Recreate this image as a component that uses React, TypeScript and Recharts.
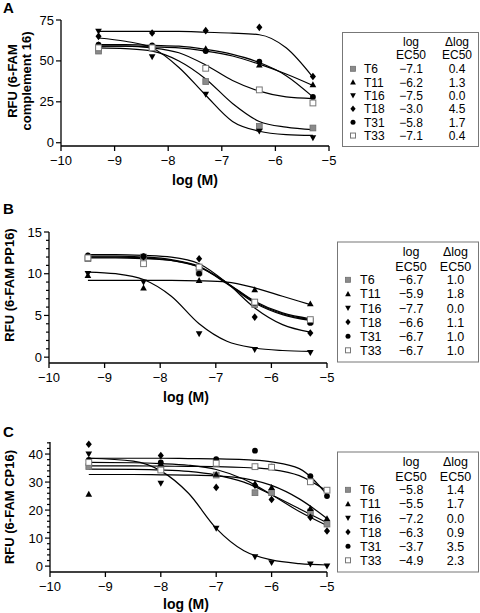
import React from 'react'
import { ComposedChart, Line, Scatter, XAxis, YAxis } from 'recharts'

const FONT = '"Liberation Sans", Arial, Helvetica, sans-serif'

const compounds = ['T6', 'T11', 'T16', 'T18', 'T31', 'T33']
const markerKinds = ['graySquare', 'up', 'down', 'diamond', 'circle', 'openSquare']
const xTicks = [-10, -9, -8, -7, -6, -5]

// panel A: 6-FAM complement 16
const aDoseX = [-9.3, -8.3, -7.3, -6.3, -5.3]
const aT6 = [56, 58, 37.4, 10, 9]
const aT11 = [60, 59, 57.5, 47.5, 35.5]
const aT16 = [68, 52.5, 29.5, 7, 3]
const aT18 = [65, 67, 68.5, 70.5, 40.5]
const aT31 = [60, 59.5, 56, 49.5, 28]
const aT33 = [58, 58, 45.5, 32.3, 24.3]
const aFitX = [-9.3, -8.8, -8.3, -7.8, -7.3, -6.8, -6.3, -5.8, -5.3]
const aFitT6 = [58, 57.5, 56, 50, 39, 24, 13, 9.5, 8]
const aFitT11 = [59, 59, 58.5, 58, 56, 53, 48, 42, 35]
const aFitT16 = [64, 62, 58, 46, 29, 13, 7, 5, 4.5]
const aFitT18 = [68, 68, 68, 68, 67.5, 67, 66, 58, 40]
const aFitT31 = [60, 60, 59.5, 59, 57, 54, 49, 41, 28]
const aFitT33 = [59, 59, 58, 55, 47.5, 38, 31.5, 28, 27]
const aLogEC50 = ['\u22127.1', '\u22126.2', '\u22127.5', '\u22123.0', '\u22125.8', '\u22127.1']
const aDeltaLog = ['0.4', '1.3', '0.0', '4.5', '1.7', '0.4']
const aYTicks = [0, 25, 50, 75]
const aYMajor = [0, 25, 50, 75]

// panel B: 6-FAM PP16
const bDoseX = [-9.3, -8.3, -7.3, -6.3, -5.3]
const bT6 = [11.8, 12.0, 10.2, 6.3, 4.3]
const bT11 = [9.8, 8.3, 9.2, 8.1, 6.4]
const bT16 = [10.0, 9.0, 2.8, 0.9, 0.55]
const bT18 = [12.1, 12.0, 11.8, 4.8, 2.9]
const bT31 = [12.2, 12.1, 10.0, 6.5, 4.1]
const bT33 = [11.9, 11.2, 10.8, 6.6, 4.5]
const bFitX = [-9.3, -8.8, -8.3, -7.8, -7.3, -6.8, -6.3, -5.8, -5.3]
const bFitT6 = [12.0, 12.0, 11.9, 11.6, 10.8, 8.8, 6.5, 5.1, 4.4]
const bFitT11 = [9.2, 9.2, 9.2, 9.2, 9.15, 9.0, 8.3, 7.3, 6.3]
const bFitT16 = [10.2, 10.0, 9.3, 7.3, 4.0, 1.9, 1.1, 0.8, 0.7]
const bFitT18 = [12.3, 12.3, 12.2, 12.0, 11.2, 8.9, 5.9, 3.9, 3.0]
const bFitT31 = [12.1, 12.1, 12.0, 11.7, 10.9, 8.9, 6.6, 5.2, 4.5]
const bFitT33 = [11.9, 11.9, 11.8, 11.6, 10.8, 8.9, 6.7, 5.3, 4.6]
const bLogEC50 = ['\u22126.7', '\u22125.9', '\u22127.7', '\u22126.6', '\u22126.7', '\u22126.7']
const bDeltaLog = ['1.0', '1.8', '0.0', '1.1', '1.0', '1.0']
const bYTicks = [0, 1, 2, 3, 4, 5, 6, 7, 8, 9, 10, 11, 12, 13, 14, 15]
const bYMajor = [0, 5, 10, 15]

// panel C: 6-FAM CP16
const cDoseX = [-9.3, -8, -7, -6.3, -6, -5.3, -5]
const cT6 = [35.5, 35, 32.5, 26.2, 26.2, 19.3, 15]
const cT11 = [25.7, 36.5, 32.8, 29.5, 28.1, 20.6, 17]
const cT16 = [40, 29.5, 13.5, 3.3, 1.2, 0.7, 0]
const cT18 = [43.5, 39.5, 28.1, 28.9, 23.8, 17.4, 12.5]
const cT31 = [37.9, 37, 38.2, 41.2, 35.5, 32.1, 25]
const cT33 = [37, 34.3, 36.7, 35.5, 35.3, 30.1, 27.1]
const cFitX = [-9.3, -8.5, -8, -7.5, -7, -6.5, -6, -5.5, -5]
const cFitT6 = [34.6, 34.5, 34.3, 33.8, 32.5, 30, 25.5, 20.5, 15.5]
const cFitT11 = [32.7, 32.7, 32.6, 32.5, 32.2, 31.3, 28.8, 24, 17]
const cFitT16 = [38.5, 37.5, 34, 26, 13.5, 5.5, 2.2, 0.9, 0.4]
const cFitT18 = [37.0, 36.9, 36.6, 36.0, 34.5, 31, 25.5, 19.5, 14.5]
const cFitT31 = [38.5, 38.5, 38.5, 38.4, 38.3, 38.0, 37.2, 34.8, 25.5]
const cFitT33 = [35.8, 35.8, 35.7, 35.6, 35.5, 35.2, 34.5, 32.3, 26.8]
const cLogEC50 = ['\u22125.8', '\u22125.5', '\u22127.2', '\u22126.3', '\u22123.7', '\u22124.9']
const cDeltaLog = ['1.4', '1.7', '0.0', '0.9', '3.5', '2.3']
const cYTicks = [0, 2, 4, 6, 8, 10, 12, 14, 16, 18, 20, 22, 24, 26, 28, 30, 32, 34, 36, 38, 40, 42, 44]
const cYMajor = [0, 10, 20, 30, 40]

const toPoints = (xs: number[], ys: number[]) => xs.map((x, i) => ({ x, y: ys[i] }))
const minus = (v: number) => String(v).replace('-', '\u2212')

function Marker({ kind, cx, cy, s }: { kind: string; cx: number; cy: number; s: number }) {
  const h = s / 2
  switch (kind) {
    case 'graySquare':
      return <rect x={cx - h} y={cy - h} width={s} height={s} fill="#8a8a8a" stroke="#6e6e6e" strokeWidth={0.8} />
    case 'openSquare':
      return <rect x={cx - h} y={cy - h} width={s} height={s} fill="#fff" stroke="#777" strokeWidth={1} />
    case 'up':
      return <polygon points={`${cx},${cy - h * 1.15} ${cx + h * 1.15},${cy + h * 0.9} ${cx - h * 1.15},${cy + h * 0.9}`} fill="#000" />
    case 'down':
      return <polygon points={`${cx},${cy + h * 1.15} ${cx + h * 1.15},${cy - h * 0.9} ${cx - h * 1.15},${cy - h * 0.9}`} fill="#000" />
    case 'diamond':
      return <polygon points={`${cx},${cy - h * 1.3} ${cx + h * 1.05},${cy} ${cx},${cy + h * 1.3} ${cx - h * 1.05},${cy}`} fill="#000" />
    default:
      return <circle cx={cx} cy={cy} r={h} fill="#000" />
  }
}

function XTick(props: any) {
  const { x, y, payload } = props
  return (
    <g>
      <line x1={x} x2={x} y1={y} y2={y + 5} stroke="#000" strokeWidth={1.3} />
      <text x={x} y={y + 18.5} textAnchor="middle" fontSize={13} fontFamily={FONT} fill="#000">
        {minus(payload.value)}
      </text>
    </g>
  )
}

function YTick(props: any) {
  const { x, y, payload, majors } = props
  const major = majors.includes(payload.value)
  return (
    <g>
      <line x1={x} x2={x - (major ? 5 : 3)} y1={y} y2={y} stroke="#000" strokeWidth={1.2} />
      {major && (
        <text x={x - 7} y={y + 4.5} textAnchor="end" fontSize={13} fontFamily={FONT} fill="#000">
          {payload.value}
        </text>
      )}
    </g>
  )
}

interface PanelProps {
  top: number
  height: number
  yAxisW: number
  xAxisH: number
  marginTop: number
  marginRight: number
  yDomain: number[]
  yTicks: number[]
  yMajor: number[]
  doseX: number[]
  values: number[][]
  fitX: number[]
  fits: number[][]
}

function Panel(p: PanelProps) {
  const axis = { stroke: '#000', strokeWidth: 1.3 }
  return (
    <div style={{ position: 'absolute', left: 0, top: p.top }}>
      <ComposedChart
        width={340}
        height={p.height}
        margin={{ top: p.marginTop, right: p.marginRight, bottom: 0, left: 0 }}
      >
        <XAxis
          type="number"
          dataKey="x"
          domain={[-10, -5]}
          ticks={xTicks}
          interval={0}
          tickSize={0}
          tickMargin={0}
          tick={(t: any) => <XTick {...t} />}
          axisLine={axis}
          height={p.xAxisH}
        />
        <YAxis
          type="number"
          dataKey="y"
          domain={p.yDomain}
          ticks={p.yTicks}
          interval={0}
          tickSize={0}
          tickMargin={0}
          tick={(t: any) => <YTick {...t} majors={p.yMajor} />}
          axisLine={axis}
          width={p.yAxisW}
        />
        {p.fits.map((f, i) => (
          <Line
            key={'fit' + i}
            data={toPoints(p.fitX, f)}
            dataKey="y"
            type="monotone"
            stroke="#000"
            strokeWidth={1.2}
            dot={false}
            activeDot={false}
            isAnimationActive={false}
          />
        ))}
        {p.values.map((v, i) => (
          <Scatter
            key={'pt' + i}
            data={toPoints(p.doseX, v)}
            dataKey="y"
            isAnimationActive={false}
            shape={(s: any) => <Marker kind={markerKinds[i]} cx={s.cx} cy={s.cy} s={5.8} />}
          />
        ))}
      </ComposedChart>
    </div>
  )
}

interface LegendProps {
  x: number
  y: number
  w: number
  h: number
  fs: number
  headBase: number
  headGap: number
  rowBase: number
  rowStep: number
  symX: number
  nameX: number
  valX: number
  deltaX: number
  logs: string[]
  deltas: string[]
}

function LegendTable(l: LegendProps) {
  return (
    <g fontFamily={FONT} fontSize={l.fs} fill="#000">
      <rect x={l.x} y={l.y} width={l.w} height={l.h} fill="#fff" stroke="#777" strokeWidth={1} />
      <text x={l.valX} y={l.headBase} textAnchor="middle">log</text>
      <text x={l.valX} y={l.headBase + l.headGap} textAnchor="middle">EC50</text>
      <text x={l.deltaX} y={l.headBase} textAnchor="middle">{'\u0394log'}</text>
      <text x={l.deltaX} y={l.headBase + l.headGap} textAnchor="middle">EC50</text>
      {compounds.map((c, i) => {
        const by = l.rowBase + i * l.rowStep
        return (
          <g key={c}>
            <Marker kind={markerKinds[i]} cx={l.symX} cy={by - 4.5} s={5} />
            <text x={l.nameX} y={by}>{c}</text>
            <text x={l.valX} y={by} textAnchor="middle">{l.logs[i]}</text>
            <text x={l.deltaX} y={by} textAnchor="middle">{l.deltas[i]}</text>
          </g>
        )
      })}
    </g>
  )
}

export default function App() {
  return (
    <div style={{ position: 'absolute', left: 0, top: 0, width: 480, height: 613, background: '#fff', overflow: 'hidden' }}>
      <Panel
        top={0}
        height={190}
        yAxisW={61}
        xAxisH={44}
        marginTop={20}
        marginRight={11}
        yDomain={[-2, 75]}
        yTicks={aYTicks}
        yMajor={aYMajor}
        doseX={aDoseX}
        values={[aT6, aT11, aT16, aT18, aT31, aT33]}
        fitX={aFitX}
        fits={[aFitT6, aFitT11, aFitT16, aFitT18, aFitT31, aFitT33]}
      />
      <Panel
        top={190}
        height={220}
        yAxisW={49}
        xAxisH={47}
        marginTop={42}
        marginRight={13}
        yDomain={[-0.7, 15]}
        yTicks={bYTicks}
        yMajor={bYMajor}
        doseX={bDoseX}
        values={[bT6, bT11, bT16, bT18, bT31, bT33]}
        fitX={bFitX}
        fits={[bFitT6, bFitT11, bFitT16, bFitT18, bFitT31, bFitT33]}
      />
      <Panel
        top={400}
        height={213}
        yAxisW={50}
        xAxisH={41}
        marginTop={42}
        marginRight={13}
        yDomain={[-2.1, 44.3]}
        yTicks={cYTicks}
        yMajor={cYMajor}
        doseX={cDoseX}
        values={[cT6, cT11, cT16, cT18, cT31, cT33]}
        fitX={cFitX}
        fits={[cFitT6, cFitT11, cFitT16, cFitT18, cFitT31, cFitT33]}
      />
      <svg width={480} height={613} style={{ position: 'absolute', left: 0, top: 0, pointerEvents: 'none' }}>
        <g fontFamily={FONT} fontWeight="bold" fill="#000">
          <text x={3} y={13} fontSize={15}>A</text>
          <text x={3} y={214} fontSize={15}>B</text>
          <text x={3} y={437} fontSize={15}>C</text>
          <text x={195} y={185} fontSize={14} textAnchor="middle">log (M)</text>
          <text x={186} y={402} fontSize={14} textAnchor="middle">log (M)</text>
          <text x={186} y={609} fontSize={14} textAnchor="middle">log (M)</text>
          <text x={16.5} y={81} fontSize={13} textAnchor="middle" transform="rotate(-90 16.5 81)">RFU (6-FAM</text>
          <text x={30.5} y={81} fontSize={13} textAnchor="middle" transform="rotate(-90 30.5 81)">complement 16)</text>
          <text x={14} y={285} fontSize={13} textAnchor="middle" transform="rotate(-90 14 285)">RFU (6-FAM PP16)</text>
          <text x={14} y={507} fontSize={13} textAnchor="middle" transform="rotate(-90 14 507)">RFU (6-FAM CP16)</text>
        </g>
        <LegendTable
          x={342.5} y={32.5} w={136} h={114} fs={12}
          headBase={45.5} headGap={13.5} rowBase={73.3} rowStep={13.35}
          symX={353} nameX={364} valX={411} deltaX={457}
          logs={aLogEC50} deltas={aDeltaLog}
        />
        <LegendTable
          x={337.5} y={242} w={141} h={120} fs={12.5}
          headBase={256} headGap={14.5} rowBase={284.3} rowStep={14.1}
          symX={348} nameX={360} valX={411} deltaX={455.5}
          logs={bLogEC50} deltas={bDeltaLog}
        />
        <LegendTable
          x={337.5} y={452} w={141} h={120} fs={12.5}
          headBase={466} headGap={14.5} rowBase={494.3} rowStep={14.1}
          symX={348} nameX={360} valX={411} deltaX={455.5}
          logs={cLogEC50} deltas={cDeltaLog}
        />
      </svg>
    </div>
  )
}
